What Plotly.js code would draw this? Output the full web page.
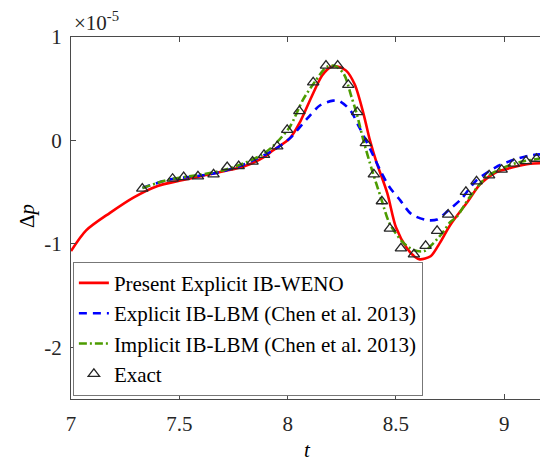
<!DOCTYPE html>
<html>
<head>
<meta charset="utf-8">
<script src="https://cdn.plot.ly/plotly-3.0.1.min.js"></script>
<style>
html,body{margin:0;padding:0;background:#fff;overflow:hidden}
</style>
</head>
<body>
<div id="chart" style="width:540px;height:461px"></div>
<script>
// Values of Δp in units of 1e-5
const redT = [7.00,7.07,7.18,7.29,7.40,7.50,7.60,7.70,7.80,7.90,7.93,8.01,8.06,8.11,8.16,8.20,8.23,8.27,8.31,8.35,8.38,8.41,8.46,8.50,8.55,8.59,8.61,8.66,8.70,8.75,8.83,8.89,8.96,9.04,9.12,9.165];
const redP = [-1.07,-0.87,-0.70,-0.55,-0.44,-0.39,-0.345,-0.30,-0.25,-0.15,-0.10,0.02,0.19,0.42,0.63,0.71,0.715,0.675,0.54,0.26,0.00,-0.21,-0.51,-0.84,-1.04,-1.13,-1.15,-1.12,-1.00,-0.82,-0.595,-0.42,-0.31,-0.26,-0.225,-0.22];

const blueT = [7.33,7.45,7.60,7.70,7.80,7.93,8.01,8.09,8.15,8.21,8.24,8.29,8.33,8.395,8.43,8.47,8.52,8.57,8.64,8.69,8.74,8.80,8.87,8.96,9.04,9.12,9.165];
const blueP = [-0.46,-0.38,-0.34,-0.30,-0.23,-0.10,0.02,0.21,0.34,0.385,0.38,0.29,0.13,-0.145,-0.30,-0.45,-0.58,-0.71,-0.77,-0.765,-0.68,-0.57,-0.39,-0.26,-0.19,-0.145,-0.135];

const greenT = [7.33,7.45,7.60,7.70,7.80,7.88,7.93,8.01,8.07,8.13,8.18,8.22,8.26,8.295,8.32,8.35,8.39,8.43,8.47,8.53,8.58,8.63,8.67,8.72,8.75,8.78,8.84,8.92,9.00,9.07,9.165];
const greenP = [-0.46,-0.38,-0.33,-0.29,-0.22,-0.14,-0.06,0.13,0.39,0.58,0.71,0.72,0.64,0.42,0.25,0.0,-0.29,-0.55,-0.80,-0.98,-1.06,-1.07,-1.00,-0.88,-0.79,-0.74,-0.55,-0.35,-0.26,-0.21,-0.175];

const exT = [7.329,7.469,7.520,7.586,7.658,7.721,7.774,7.838,7.891,7.952,7.998,8.054,8.118,8.177,8.231,8.280,8.321,8.361,8.398,8.435,8.472,8.523,8.583,8.637,8.690,8.741,8.823,8.872,8.930,8.988,9.044,9.100,9.149];
const exP = [-0.466,-0.37,-0.354,-0.347,-0.328,-0.257,-0.248,-0.205,-0.14,-0.058,0.103,0.283,0.562,0.723,0.723,0.537,0.273,-0.026,-0.328,-0.588,-0.852,-1.044,-1.102,-1.019,-0.875,-0.717,-0.498,-0.395,-0.338,-0.283,-0.225,-0.20,-0.177];

const names = ["Present Explicit IB-WENO","Explicit IB-LBM (Chen et al. 2013)","Implicit IB-LBM (Chen et al. 2013)","Exact"];
const xTicks = [7,7.5,8,8.5,9];
const xTickText = ["7","7.5","8","8.5","9"];
const yTicks = [-2,-1,0,1];
const yTickText = ["-2","-1","0","1"];

const fam = "Liberation Serif";
const axisColor = "#4a4a4a";

const traces = [
  {x: redT, y: redP, name: names[0], mode: "lines", line: {color: "#ff0000", width: 2.6, shape: "spline", smoothing: 0.8}},
  {x: blueT, y: blueP, name: names[1], mode: "lines", line: {color: "#0000ff", width: 2.6, dash: "8px,6px", shape: "spline", smoothing: 0.8}},
  {x: greenT, y: greenP, name: names[2], mode: "lines", line: {color: "#4c9c00", width: 2.6, dash: "8px,3px,2px,3px", shape: "spline", smoothing: 0.8}},
  {x: exT, y: exP, name: names[3], mode: "markers", marker: {symbol: "triangle-up-open", size: 10, color: "#262626", line: {width: 1.3, color: "#262626"}}}
];

const layout = {
  width: 540, height: 461,
  margin: {l: 71, r: 0, t: 37, b: 62},
  paper_bgcolor: "#fff", plot_bgcolor: "#fff",
  font: {family: fam, size: 21, color: "#262626"},
  showlegend: true,
  legend: {
    x: 0.004, y: 0.009, xanchor: "left", yanchor: "bottom",
    bgcolor: "#fff", bordercolor: "#777", borderwidth: 1,
    font: {family: fam, size: 21, color: "#000"},
    tracegroupgap: 0
  },
  xaxis: {
    range: [7, 9.165], tickvals: xTicks, ticktext: xTickText,
    ticks: "inside", ticklen: 5, tickcolor: axisColor, tickwidth: 1,
    showline: true, linecolor: axisColor, linewidth: 1, mirror: "ticks",
    showgrid: false, zeroline: false,
    tickfont: {family: fam, size: 21, color: "#262626"},
    ticklabelstandoff: 6
  },
  yaxis: {
    range: [-2.5, 1], tickvals: yTicks, ticktext: yTickText,
    ticks: "inside", ticklen: 5, tickcolor: axisColor, tickwidth: 1,
    showline: true, linecolor: axisColor, linewidth: 1, mirror: false,
    showgrid: false, zeroline: false,
    tickfont: {family: fam, size: 21, color: "#262626"},
    ticklabelstandoff: 4
  },
  annotations: [
    {text: "×10<sup>-5</sup>", xref: "paper", yref: "paper", x: 0.002, y: 1.0, xanchor: "left", yanchor: "bottom", showarrow: false, font: {family: fam, size: 21, color: "#262626"}},
    {text: "Δ<i>p</i>", xref: "paper", yref: "paper", x: -0.094, y: 0.505, xanchor: "center", yanchor: "middle", textangle: -90, showarrow: false, font: {family: fam, size: 21, color: "#000"}},
    {text: "<i>t</i>", xref: "paper", yref: "paper", x: 0.505, y: -0.14, xanchor: "center", yanchor: "middle", showarrow: false, font: {family: fam, size: 21, color: "#000"}}
  ]
};

Plotly.newPlot("chart", traces, layout, {displayModeBar: false, staticPlot: true});
</script>
</body>
</html>
